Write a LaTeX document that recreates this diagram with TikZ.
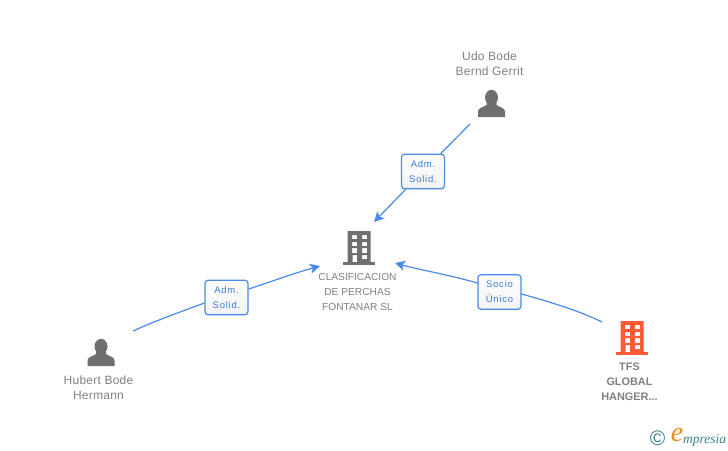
\documentclass[tikz,border=0pt]{standalone}
\usepackage{fontspec}
\setmainfont{Liberation Sans}
\newfontfamily\lblfont[LetterSpace=2]{Liberation Sans}
\newfontfamily\tagfont[LetterSpace=8]{Liberation Sans}
\newfontfamily\logofont{Liberation Serif}
\usetikzlibrary{arrows.meta}
\definecolor{txtgray}{HTML}{808080}
\definecolor{icongray}{HTML}{6F6F6F}
\definecolor{iconorange}{HTML}{FF5A36}
\definecolor{linkblue}{HTML}{4A8AE6}
\definecolor{tagblue}{HTML}{3A7CDE}
\definecolor{logoteal}{HTML}{3F7F93}
\definecolor{logoorange}{HTML}{F08A1D}
\tikzset{
  x=1pt,y=-1pt,
  link/.style={draw=linkblue,line width=1.2pt},
  linkarrow/.style={link,-{Stealth[length=10pt,width=10pt,inset=2.5pt]}},
  tagbox/.style={draw=linkblue,line width=1.2pt,rounded corners=3pt,top color=white,bottom color=white!95!black,
    minimum width=43pt,minimum height=34.5pt,inner sep=0pt,align=center,text=tagblue,
    font=\tagfont\fontsize{9.5}{15}\selectfont},
  lbl/.style={text=txtgray,align=center,inner sep=0pt,font=\lblfont\fontsize{12}{15}\selectfont},
  lblsmall/.style={text=txtgray,align=center,inner sep=0pt,font=\fontsize{10.2}{15}\selectfont},
  lblbold/.style={text=txtgray,align=center,inner sep=0pt,font=\bfseries\fontsize{10.9}{15}\selectfont},
  iconslot/.style={minimum width=30pt,minimum height=30pt,inner sep=0pt},
  pics/person/.style={code={
    \fill[icongray] (0,-6) ellipse[x radius=6.5,y radius=7.7];
    \fill[icongray] (-13.5,13.5) -- (-13.5,8) .. controls (-13.5,4) and (-8,4) .. (-5,1.5) -- (-5,-1) -- (5,-1) -- (5,1.5)
      .. controls (8,4) and (13.5,4) .. (13.5,8) -- (13.5,13.5) -- cycle;
  }},
  pics/building/.style={code={
    \fill[#1,even odd rule] (-11.5,-17) rectangle (11.5,14)
      (-7,-13) rectangle (-2,-9) (3,-13) rectangle (8,-9)
      (-7,-6) rectangle (-2,-2) (3,-6) rectangle (8,-2)
      (-7,0) rectangle (-2,5) (3,0) rectangle (8,5)
      (-6.5,7) rectangle (-2,15) (3,7) rectangle (8,11);
    \fill[#1] (-16,14) rectangle (16,17);
  }},
}
\begin{document}
\begin{tikzpicture}
\useasboundingbox (0,0) rectangle (728,450);
% icons
\node[iconslot] (udo) at (491.5,103.5) {};
\pic at (udo) {person};
\node[iconslot] (hubert) at (101,352.5) {};
\pic at (hubert) {person};
\node[iconslot] (clas) at (359,248) {};
\pic at (clas) {building=icongray};
\node[iconslot] (tfs) at (632,338) {};
\pic at (tfs) {building=iconorange};
% texts
\node[lbl] (udotxt) at (489.5,63.5) {Udo Bode\\Bernd Gerrit};
\node[lbl] (hubtxt) at (98.5,387.5) {Hubert Bode\\Hermann};
\node[lblsmall] (clastxt) at (357.5,292) {CLASIFICACION\\DE PERCHAS\\FONTANAR SL};
\node[lblbold] (tfstxt) at (629.5,382) {TFS\\GLOBAL\\HANGER...};
% relation tags
\node[tagbox] (tagudo) at (423,171.5) {Adm.\\Solid.};
\node[tagbox] (taghub) at (226.5,297.5) {Adm.\\Solid.};
\node[tagbox] (tagtfs) at (499.5,292) {Socio\\Único};
% connector ends
\coordinate (udoout) at (470,124);
\coordinate (clasa) at (374,222);
\coordinate (hubout) at (133,331);
\coordinate (clasb) at (320,266);
\coordinate (tfsout) at (602,322);
\coordinate (clasc) at (395,263);
% connectors
\draw[link] (udoout) -- (tagudo);
\draw[linkarrow] (tagudo) -- (clasa);
\draw[link] (hubout) .. controls (155,321) and (180,312) .. (taghub.west |- 0,303);
\draw[linkarrow] (taghub.east |- 0,289) .. controls (270,282) and (295,273) .. (clasb);
\draw[link] (tfsout) .. controls (580,311) and (550,302) .. (tagtfs.east |- 0,294);
\draw[linkarrow] (tagtfs.west |- 0,283) .. controls (450,275) and (420,270) .. (clasc);
% logo
\node[text=logoteal,inner sep=0pt,font=\fontsize{21}{21}\selectfont] (logoc) at (657.5,438.5) {©};
\node[text=logoorange,inner sep=0pt,font=\logofont\itshape\fontsize{28}{28}\selectfont] (logoe) at (677,435) {e};
\node[text=logoteal,inner sep=0pt,anchor=west,font=\logofont\itshape\fontsize{13.5}{13}\selectfont] (logom) at (683,440) {mpresia};
\end{tikzpicture}
\end{document}
